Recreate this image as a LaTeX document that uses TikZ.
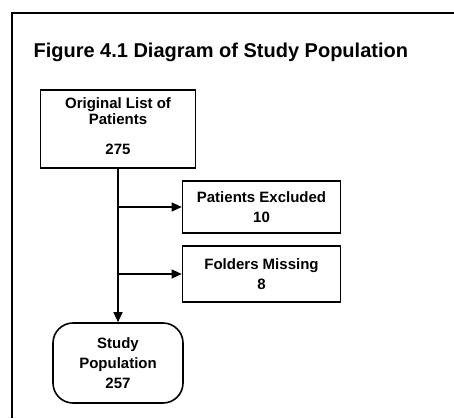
\documentclass[tikz,border=0pt]{standalone}
\usepackage{fontspec}
\setmainfont{Liberation Sans}
\usetikzlibrary{arrows.meta}
\begin{document}
\begin{tikzpicture}[x=1pt,y=-1pt,
  txt/.style={font=\bfseries\fontsize{15}{20}\selectfont},
  box/.style={draw,line width=1.6pt,inner sep=0pt,align=center,txt},
  term/.style={draw,line width=1.6pt,rounded corners=20pt,inner sep=0pt,align=center,txt},
  conn/.style={line width=1.2pt},
  arr/.style={conn,-{Triangle[length=10pt,width=9pt]}}]
\useasboundingbox (0,0) rectangle (454,418);
\draw[line width=2pt] (12,418) -- (12,13) -- (454,13);
\node[anchor=base west,font=\bfseries\fontsize{20}{24}\selectfont] (title) at (30,57) {Figure 4.1 Diagram of Study Population};
\node[box,minimum width=155pt,minimum height=78pt] (orig) at (118,129) {};
\node[txt,align=center,inner sep=0pt] (origtxt) at (118,126.5) {Original List of\\[-4pt]Patients\\[10pt]275};
\node[box,minimum width=158pt,minimum height=52pt] (excl) at (261.5,207) {Patients Excluded\\10};
\node[box,minimum width=158pt,minimum height=56pt] (miss) at (261.5,274) {Folders Missing\\8};
\node[term,minimum width=130pt,minimum height=80pt] (study) at (118,363) {Study\\Population\\257};
\draw[arr] (orig.south) -- (study.north);
\coordinate (j1) at (orig.south |- excl.west);
\coordinate (j2) at (orig.south |- miss.west);
\draw[arr] (j1) -- (excl.west);
\draw[arr] (j2) -- (miss.west);
\end{tikzpicture}
\end{document}
